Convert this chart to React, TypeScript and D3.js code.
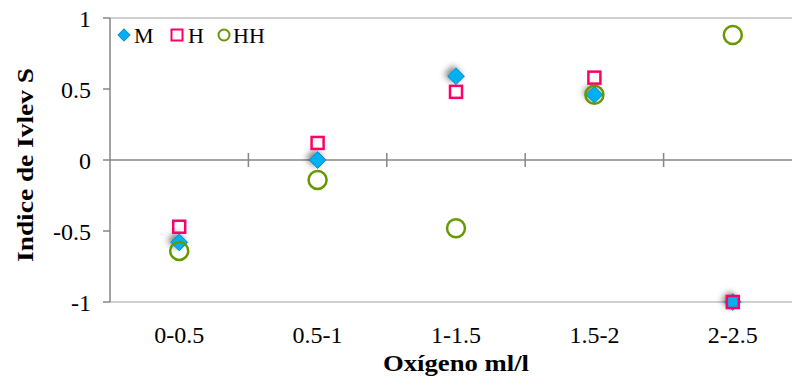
import React from "react";
import * as d3 from "d3";

const categories = ["0-0.5", "0.5-1", "1-1.5", "1.5-2", "2-2.5"];
const seriesM = [-0.58, 0.0, 0.59, 0.46, -1.0];
const seriesH = [-0.47, 0.12, 0.48, 0.58, -1.0];
const seriesHH = [-0.64, -0.14, -0.48, 0.46, 0.88];
const yTicks = [-1, -0.5, 0, 0.5, 1];
const yTickLabels = ["-1", "-0.5", "0", "0.5", "1"];

const W = 792;
const H = 377;
const left = 110;
const right = 802;
const top = 18;
const bottom = 302;
const font = "'Liberation Serif', 'Times New Roman', serif";

export default function App() {
  const x = d3.scaleBand<string>().domain(categories).range([left, right]);
  const y = d3.scaleLinear().domain([-1, 1]).range([bottom, top]);
  const cx = (c: string) => (x(c) as number) + x.bandwidth() / 2;
  const diamond = d3.symbol().type(d3.symbolDiamond2).size(180)();

  return (
    <svg width={W} height={H} style={{ position: "absolute", left: 0, top: 0 }}>
      <defs>
        <filter id="sh" x="-100%" y="-100%" width="300%" height="300%">
          <feGaussianBlur in="SourceAlpha" stdDeviation="3" />
          <feOffset dx="-3" dy="-2" result="b" />
          <feComponentTransfer>
            <feFuncA type="linear" slope="0.5" />
          </feComponentTransfer>
          <feMerge>
            <feMergeNode />
            <feMergeNode in="SourceGraphic" />
          </feMerge>
        </filter>
      </defs>
      <rect width={W} height={H} fill="#fff" />
      {/* top & bottom border */}
      <line x1={left} x2={W} y1={top} y2={top} stroke="#c0c0c0" strokeWidth={1.5} />
      <line x1={left} x2={W} y1={bottom} y2={bottom} stroke="#c0c0c0" strokeWidth={1.5} />
      {/* y axis */}
      <line x1={left} x2={left} y1={top} y2={bottom} stroke="#868686" strokeWidth={1.5} />
      {yTicks.map((t, i) => (
        <g key={t}>
          <line x1={left - 7} x2={left} y1={y(t)} y2={y(t)} stroke="#868686" strokeWidth={1.5} />
          <text x={91} y={y(t)} dy="0.38em" textAnchor="end" fontFamily={font} fontSize={24} fill="#000">
            {yTickLabels[i]}
          </text>
        </g>
      ))}
      {/* x axis at zero */}
      <line x1={left} x2={W} y1={y(0)} y2={y(0)} stroke="#868686" strokeWidth={1.5} />
      {categories.slice(1).map((c) => (
        <line key={c} x1={x(c) as number} x2={x(c) as number} y1={y(0) - 7} y2={y(0) + 7} stroke="#868686" strokeWidth={1.5} />
      ))}
      {categories.map((c) => (
        <text key={c} x={cx(c)} y={343} textAnchor="middle" fontFamily={font} fontSize={24} fill="#000">
          {c}
        </text>
      ))}
      <text x={456} y={371} textAnchor="middle" fontFamily={font} fontSize={23} fontWeight="bold" fill="#000" textLength={146} lengthAdjust="spacingAndGlyphs">
        Oxígeno ml/l
      </text>
      <text transform={`translate(33,165) rotate(-90)`} textAnchor="middle" fontFamily={font} fontSize={23} fontWeight="bold" fill="#000" textLength={194} lengthAdjust="spacingAndGlyphs">
        Indice de Ivlev S
      </text>
      {/* series */}
      {seriesM.map((v, i) => (
        <path key={"m" + i} d={diamond as string} transform={`translate(${cx(categories[i])},${y(v)})`} fill="#00B0F0" stroke="#0a86c8" strokeWidth={1} filter="url(#sh)" />
      ))}
      {seriesH.map((v, i) => (
        <rect key={"h" + i} x={cx(categories[i]) - 6} y={y(v) - 6} width={12} height={12} fill="none" stroke="#FF0066" strokeWidth={2.5} />
      ))}
      {seriesHH.map((v, i) => (
        <circle key={"hh" + i} cx={cx(categories[i])} cy={y(v)} r={9} fill="none" stroke="#669900" strokeWidth={2.5} />
      ))}
      {/* legend */}
      <path d={d3.symbol().type(d3.symbolDiamond2).size(98)() as string} transform="translate(124,35)" fill="#00B0F0" stroke="#0a86c8" strokeWidth={1} />
      <text x={134} y={43} fontFamily={font} fontSize={22} fill="#000">M</text>
      <rect x={171.5} y={29.5} width={11} height={11} fill="#fff" stroke="#FF0066" strokeWidth={2} />
      <text x={188} y={43} fontFamily={font} fontSize={22} fill="#000">H</text>
      <circle cx={224} cy={35} r={5.5} fill="none" stroke="#669900" strokeWidth={2} />
      <text x={233} y={43} fontFamily={font} fontSize={22} fill="#000">HH</text>
    </svg>
  );
}
